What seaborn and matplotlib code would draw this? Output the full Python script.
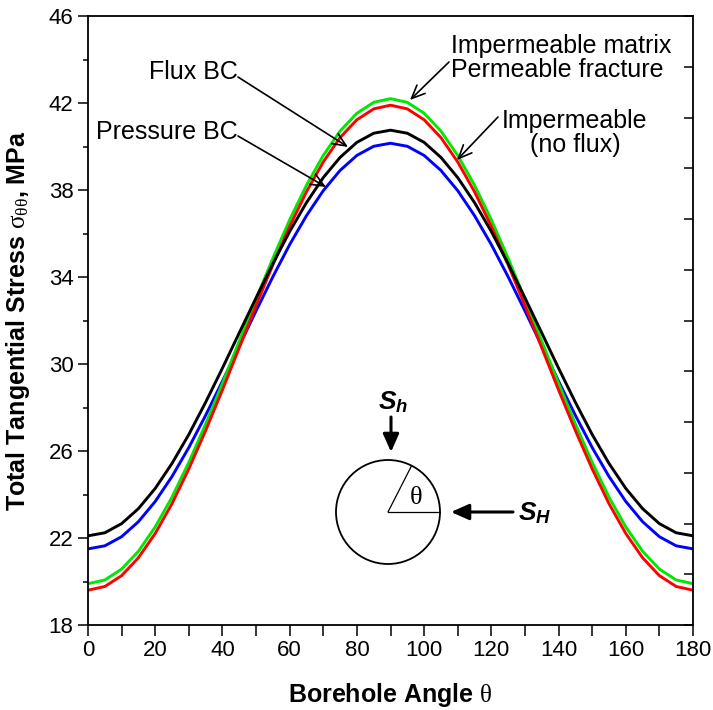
import numpy as np
import pandas as pd
import matplotlib
matplotlib.use("Agg")
import matplotlib.pyplot as plt
from matplotlib.patches import Ellipse
import seaborn as sns

# ---- data ----
angle = [0, 5, 10, 15, 20, 25, 30, 35, 40, 45, 50, 55, 60, 65, 70, 75, 80, 85, 90,
         95, 100, 105, 110, 115, 120, 125, 130, 135, 140, 145, 150, 155, 160, 165, 170, 175, 180]
flux_bc = [22.10, 22.24, 22.66, 23.35, 24.28, 25.43, 26.76, 28.24, 29.81, 31.43, 33.04, 34.61,
           36.09, 37.42, 38.57, 39.50, 40.19, 40.61, 40.75, 40.61, 40.19, 39.50, 38.57, 37.42,
           36.09, 34.61, 33.04, 31.43, 29.81, 28.24, 26.76, 25.43, 24.28, 23.35, 22.66, 22.24, 22.10]
pressure_bc = [21.50, 21.64, 22.06, 22.75, 23.68, 24.83, 26.16, 27.64, 29.21, 30.83, 32.44, 34.01,
               35.49, 36.82, 37.97, 38.90, 39.59, 40.01, 40.15, 40.01, 39.59, 38.90, 37.97, 36.82,
               35.49, 34.01, 32.44, 30.83, 29.21, 27.64, 26.16, 24.83, 23.68, 22.75, 22.06, 21.64, 21.50]
impermeable = [19.60, 19.77, 20.27, 21.09, 22.21, 23.58, 25.18, 26.94, 28.81, 30.75, 32.69, 34.56,
               36.33, 37.92, 39.29, 40.41, 41.23, 41.73, 41.90, 41.73, 41.23, 40.41, 39.29, 37.92,
               36.33, 34.56, 32.69, 30.75, 28.81, 26.94, 25.18, 23.58, 22.21, 21.09, 20.27, 19.77, 19.60]
imperm_matrix = [19.90, 20.07, 20.57, 21.39, 22.51, 23.88, 25.48, 27.24, 29.11, 31.05, 32.99, 34.86,
                 36.63, 38.22, 39.59, 40.71, 41.53, 42.03, 42.20, 42.03, 41.53, 40.71, 39.59, 38.22,
                 36.63, 34.86, 32.99, 31.05, 29.11, 27.24, 25.48, 23.88, 22.51, 21.39, 20.57, 20.07, 19.90]
series_names = ["Pressure BC", "Imperm. matrix", "Impermeable", "Flux BC"]
series_colors = ["#0000ff", "#00e800", "#ff0000", "#000000"]
x_ticks = [0, 20, 40, 60, 80, 100, 120, 140, 160, 180]
y_ticks = [18, 22, 26, 30, 34, 38, 42, 46]

df = pd.concat([
    pd.DataFrame({"angle": angle, "stress": pressure_bc, "case": series_names[0]}),
    pd.DataFrame({"angle": angle, "stress": imperm_matrix, "case": series_names[1]}),
    pd.DataFrame({"angle": angle, "stress": impermeable, "case": series_names[2]}),
    pd.DataFrame({"angle": angle, "stress": flux_bc, "case": series_names[3]}),
], ignore_index=True)

sns.set_theme(style="ticks")
plt.rcParams["font.family"] = ["Liberation Sans", "DejaVu Sans"]
plt.rcParams["text.color"] = "black"
plt.rcParams["axes.labelcolor"] = "black"
plt.rcParams["xtick.color"] = "black"
plt.rcParams["ytick.color"] = "black"
plt.rcParams["axes.edgecolor"] = "black"
plt.rcParams["mathtext.fontset"] = "custom"
plt.rcParams["mathtext.rm"] = "Liberation Serif"
plt.rcParams["mathtext.it"] = "Liberation Serif:italic"
plt.rcParams["mathtext.bf"] = "Liberation Sans:bold"
plt.rcParams["mathtext.bfit"] = "Liberation Sans:italic:bold"

fig = plt.figure(figsize=(7.13, 7.10), dpi=100)
ax = fig.add_axes([88 / 713, 1 - 625 / 710, 605 / 713, 609 / 710])

sns.lineplot(data=df, x="angle", y="stress", hue="case", hue_order=series_names,
             palette=dict(zip(series_names, series_colors)), estimator=None,
             linewidth=2.1, legend=False, ax=ax)

ax.set_xlim(0, 180)
ax.set_ylim(18, 46)
ax.set_xticks(range(0, 181, 10))
ax.set_xticklabels([str(v) if v in x_ticks else "" for v in range(0, 181, 10)])
ax.set_yticks(y_ticks)
ax.set_yticks(range(18, 47, 2), minor=True)
ax.tick_params(axis="x", direction="out", length=8, width=1.1, labelsize=16, pad=3,
               top=False, bottom=True, colors="black")
ax.tick_params(axis="y", which="major", direction="out", length=7.5, width=1.1,
               labelsize=16, pad=3, right=False, left=True, colors="black")
ax.tick_params(axis="y", which="minor", direction="out", length=3.8, width=1.1,
               right=False, left=True, colors="black")
for s in ax.spines.values():
    s.set_linewidth(1.3)
    s.set_color("black")
    s.set_visible(True)

ax2 = ax.twinx()
ax2.set_ylim(0, 12)
ax2.set_yticks(range(13))
ax2.tick_params(axis="y", direction="in", length=6.5, width=1.1, labelright=False,
                right=True, colors="black")
for s in ax2.spines.values():
    s.set_visible(False)

ax.set_xlabel(r"Borehole Angle $\mathrm{\theta}$", fontsize=18, fontweight="bold")
ax.set_ylabel(r"Total Tangential Stress $\mathrm{\sigma_{\theta\theta}}$, MPa",
              fontsize=18, fontweight="bold")
ax.xaxis.set_label_coords(0.5, -0.092)
ax.yaxis.set_label_coords(-0.093, 0.5)


def px(xp, yp):
    return ((xp - 88) / (605 / 180), 18 + (625 - yp) / (609 / 28))


arrow_kw = dict(arrowstyle="->,head_length=0.8,head_width=0.35", lw=1.2, color="black",
                shrinkA=0, shrinkB=0)
ann_fs = 18

ax.text(*px(238, 72), "Flux BC", ha="right", va="center", fontsize=ann_fs)
ax.annotate("", xy=px(348, 147), xytext=px(238, 77), arrowprops=arrow_kw)

ax.text(*px(238, 132), "Pressure BC", ha="right", va="center", fontsize=ann_fs)
ax.annotate("", xy=px(326, 187), xytext=px(238, 136), arrowprops=arrow_kw)

ax.text(*px(451, 58), "Impermeable matrix\nPermeable fracture", ha="left", va="center",
        fontsize=ann_fs, linespacing=1.0)
ax.annotate("", xy=px(410, 100), xytext=px(449, 62), arrowprops=arrow_kw)

ax.text(*px(575, 133), "Impermeable\n(no flux)", ha="center", va="center",
        fontsize=ann_fs, linespacing=1.0, multialignment="center")
ax.annotate("", xy=px(457, 160), xytext=px(498, 117), arrowprops=arrow_kw)

# borehole sketch
cx, cy = px(388, 512)
ax.add_patch(Ellipse((cx, cy), 2 * 52 / (605 / 180), 2 * 52 / (609 / 28), fill=False,
                     lw=1.3, color="black"))
ax.plot([cx, px(440, 512)[0]], [cy, cy], color="black", lw=0.9)
ax.plot([cx, px(411.6, 465.7)[0]], [cy, px(411.6, 465.7)[1]], color="black", lw=0.9)
ax.text(*px(416, 497), r"$\mathrm{\theta}$", ha="center", va="center", fontsize=19)

fill_kw = dict(arrowstyle="-|>,head_length=0.9,head_width=0.4", lw=2.2, color="black",
               shrinkA=0, shrinkB=0)
ax.annotate("", xy=px(391, 452), xytext=px(391, 417), arrowprops=fill_kw)
ax.text(*px(393, 402), r"$\mathbfit{S}_{\mathbfit{h}}$", ha="center", va="center", fontsize=19)
ax.annotate("", xy=px(451, 512), xytext=px(513, 512), arrowprops=fill_kw)
ax.text(*px(518, 513), r"$\mathbfit{S}_{\mathbfit{H}}$", ha="left", va="center", fontsize=19)

fig.savefig("out.png", dpi=100)
